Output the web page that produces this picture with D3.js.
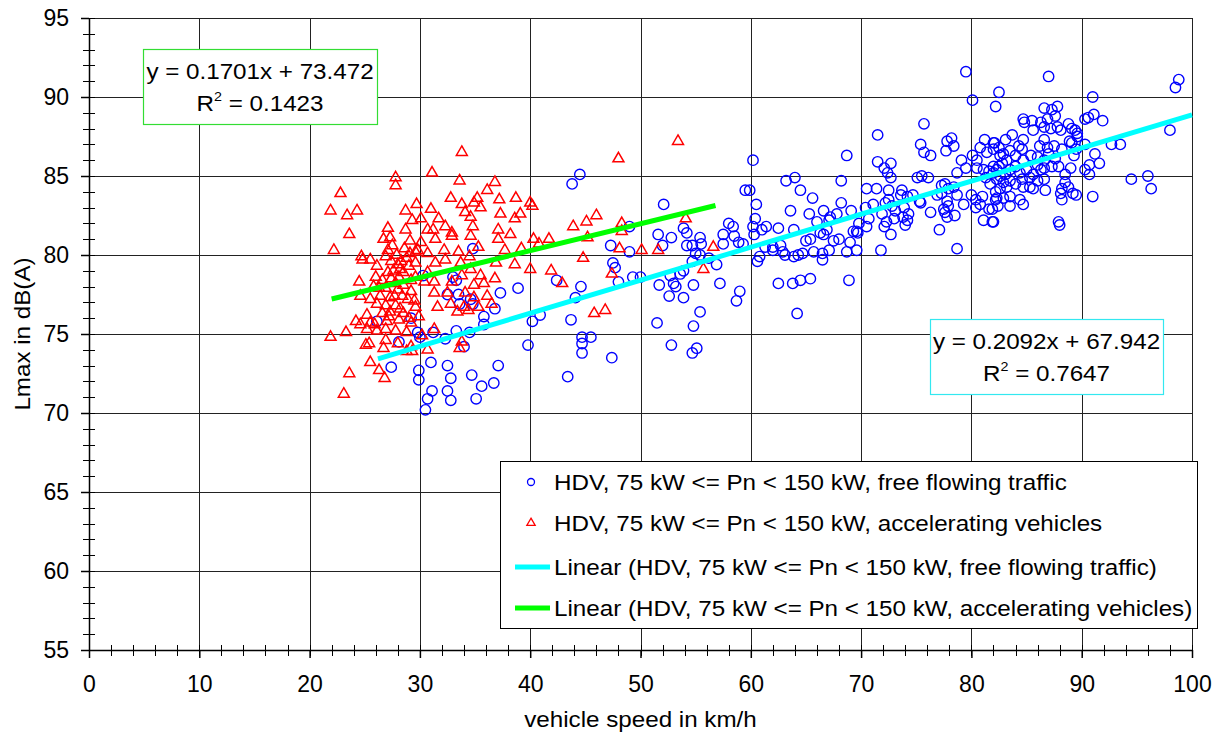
<!DOCTYPE html>
<html>
<head>
<meta charset="utf-8">
<title>Lmax vs vehicle speed</title>
<script src="https://d3js.org/d3.v7.min.js"></script>
<style>
    body { margin: 0; background: #fff; }
    svg { display: block; font-family: "Liberation Sans", Arial, sans-serif; }
</style>
</head>
<body>
<div id="chart"></div>
<script>
// axis ticks
const xTicks = [0, 10, 20, 30, 40, 50, 60, 70, 80, 90, 100];
const yTicks = [55, 60, 65, 70, 75, 80, 85, 90, 95];
const xMinorStep = 2;
const yMinorStep = 1;

// HDV, 75 kW <= Pn < 150 kW, free flowing traffic  [speed km/h, Lmax dB(A)]
const freeFlowing = [
    [26.1,75.8],[28.1,74.5],[27.4,72.9],[29.2,76.0],[29.8,75.1],[29.9,72.7],[29.9,72.1],
    [44.5,85.1],[43.8,84.5],[34.8,80.4],[30.3,78.7],[33.0,78.6],[33.3,78.4],[37.3,77.6],[38.9,77.9],
    [42.4,78.4],[44.6,78.0],[44.1,77.3],[32.5,77.5],[33.5,77.5],[34.6,77.2],[34.8,76.9],[33.6,76.9],
    [36.8,76.6],[35.8,76.1],[35.8,75.6],[34.5,75.1],[33.3,75.2],[32.3,74.7],[31.2,75.1],[30.0,74.8],
    [40.2,75.8],[40.9,76.2],[43.7,75.9],[44.7,74.8],[45.5,74.8],[44.7,74.4],[44.7,73.8],[39.8,74.3],
    [34.0,74.2],[31.0,73.2],[32.5,73.0],[32.8,72.2],[31.1,71.4],[30.7,70.9],[30.5,70.2],[32.5,71.4],
    [32.8,70.8],[34.7,72.4],[35.6,71.7],[36.7,71.9],[37.1,73.0],[35.1,70.9],[43.4,72.3],
    [60.2,86.0],[63.2,84.7],[64.0,84.9],[64.5,84.1],[59.5,84.1],[59.9,84.1],[52.1,83.2],[60.5,83.2],
    [63.6,82.8],[60.4,82.3],[60.2,81.8],[61.0,81.6],[61.4,81.8],[62.5,81.7],[63.9,81.6],[58.0,82.0],
    [58.4,81.8],[57.5,81.3],[58.5,81.2],[60.3,81.3],[53.9,81.7],[54.2,81.4],[51.6,81.3],[52.8,81.1],
    [49.0,81.8],[55.4,81.1],[55.5,80.7],[54.2,80.6],[54.7,80.6],[52.0,80.6],[57.5,80.7],[58.9,80.8],
    [59.3,80.7],[47.3,80.6],[49.0,80.2],[55.0,80.1],[55.4,80.0],[56.2,79.8],[56.9,79.4],[54.7,79.6],
    [61.3,80.5],[62.0,80.5],[62.7,80.6],[62.9,80.2],[60.8,79.9],[60.6,79.6],[62.0,80.3],[63.1,80.0],
    [63.9,79.9],[64.3,80.0],[47.5,79.5],[47.7,79.2],[49.3,78.6],[50.0,78.6],[48.0,78.3],[52.7,78.7],
    [53.0,78.2],[53.2,78.0],[53.6,78.8],[53.9,79.0],[54.8,78.1],[51.7,78.1],[52.6,77.4],[53.9,77.3],
    [57.2,78.2],[59.0,77.7],[58.7,77.1],[62.5,78.2],[63.8,78.2],[64.5,78.4],[55.4,76.4],[51.5,75.7],
    [54.8,75.5],[64.2,76.3],[47.4,73.5],[52.8,74.3],[54.7,73.8],[55.1,74.1],
    [79.5,91.6],[80.1,89.8],[82.5,90.3],[82.2,89.4],[75.7,88.3],[71.5,87.6],[68.7,86.3],[75.4,87.0],
    [75.7,86.5],[76.3,86.3],[77.7,86.6],[77.8,87.2],[78.2,87.4],[78.4,86.9],[71.5,85.9],[72.7,85.8],
    [72.1,85.5],[72.4,85.2],[72.7,84.9],[65.6,83.6],[68.2,84.7],[68.2,83.3],[65.3,82.6],[66.6,82.8],
    [67.2,82.4],[67.8,82.6],[69.1,82.8],[70.5,84.2],[71.4,84.2],[70.4,83.0],[71.1,83.2],[72.5,84.1],
    [73.7,84.1],[73.6,83.8],[74.2,83.7],[74.7,83.8],[75.3,83.4],[72.5,83.5],[72.2,83.3],[72.8,83.1],
    [73.1,82.8],[73.9,83.0],[74.3,82.6],[74.2,82.2],[71.9,82.6],[72.3,82.1],[72.1,81.8],[72.7,81.3],
    [73.0,82.3],[73.8,82.4],[74.0,81.9],[70.7,82.3],[70.5,81.8],[69.8,82.0],[69.7,81.4],[69.3,81.5],
    [75.1,84.9],[75.5,85.0],[76.1,84.9],[77.3,84.4],[77.6,84.5],[77.9,84.2],[78.4,84.3],[77.3,83.9],
    [76.9,83.8],[78.7,83.8],[77.8,83.4],[77.9,83.1],[77.5,82.9],[77.6,82.7],[77.8,82.4],[78.5,82.5],
    [76.3,82.7],[75.4,83.3],[77.1,81.6],[78.7,80.4],[79.3,83.2],[78.7,85.2],[79.1,86.0],[79.5,85.5],
    [80.1,86.3],[80.5,86.0],[80.0,83.8],[80.4,83.5],[80.4,83.0],[80.8,83.2],[81.0,83.7],[81.2,87.3],
    [82.1,87.1],[80.8,86.8],[81.4,86.5],[82.0,86.7],[82.6,86.3],[80.5,85.5],[81.1,85.4],[81.6,85.3],
    [82.0,85.2],[82.5,85.6],[81.3,84.9],[81.7,84.5],[82.2,84.0],[82.3,83.6],[81.1,82.2],[81.9,82.1],
    [81.6,82.9],[65.0,80.9],[65.4,81.0],[64.7,80.1],[65.7,80.2],[66.5,79.7],[66.5,80.1],[67.1,80.3],
    [67.5,80.9],[68.0,81.0],[66.6,81.3],[66.3,81.4],[66.9,81.6],[66.0,82.1],[67.1,82.2],[68.7,80.2],
    [69.0,80.8],[69.6,80.3],[69.6,81.5],[65.4,78.5],[68.9,78.4],[71.8,80.3],
    [87.0,91.3],[91.0,90.0],[98.8,91.1],[98.5,90.6],[98.0,87.9],[92.7,87.0],[93.5,87.0],[94.5,84.8],
    [96.0,85.0],[96.3,84.2],[91.0,83.7],[91.2,86.4],[91.6,85.8],[90.3,85.4],[90.7,85.1],[90.7,85.7],
    [91.9,88.5],[91.1,88.9],[90.6,88.7],[90.3,88.6],[90.3,87.0],[86.6,89.3],[87.3,89.2],[87.8,89.4],
    [87.6,88.8],[86.9,88.6],[84.7,88.6],[84.8,88.4],[85.5,88.5],[86.3,88.4],[86.6,88.1],[87.2,88.0],
    [87.8,88.1],[88.1,87.9],[88.8,88.3],[89.1,88.0],[89.4,87.9],[89.6,87.7],[89.6,87.5],[83.7,87.6],
    [83.1,87.3],[84.7,87.3],[85.6,87.9],[86.6,87.3],[86.2,86.9],[86.9,86.8],[87.5,86.9],[88.2,86.7],
    [88.9,87.2],[89.1,87.1],[82.0,87.1],[82.5,86.8],[82.9,86.4],[83.5,86.6],[84.3,86.9],[84.6,86.7],
    [84.0,86.3],[85.4,86.3],[84.7,86.0],[86.0,86.2],[86.6,86.0],[87.0,86.4],[87.6,86.1],[87.9,85.6],
    [87.3,85.6],[86.6,85.5],[86.0,85.7],[89.0,85.5],[89.3,86.3],[89.5,86.7],[88.5,85.1],[88.8,84.3],
    [88.2,84.2],[88.1,83.9],[88.2,83.5],[89.2,83.9],[89.5,83.8],[88.5,84.6],[87.9,82.1],[88.0,81.9],
    [82.0,85.6],[82.3,85.4],[82.8,85.8],[83.2,86.0],[82.6,85.0],[83.1,85.1],[83.5,85.4],[84.0,85.6],
    [84.4,85.2],[85.0,85.4],[85.6,85.1],[86.3,85.4],[85.3,84.9],[84.6,84.8],[83.5,84.7],[82.9,84.6],
    [82.3,84.8],[82.6,84.2],[83.2,84.3],[84.0,84.5],[84.7,84.3],[85.3,84.3],[86.0,84.7],[86.6,84.8],
    [86.7,84.1],[85.6,84.2],[82.2,83.5],[82.9,83.6],[83.5,83.7],[84.4,83.5],[84.7,83.2],[82.4,83.1],
    [83.5,83.1],[81.9,82.9],[82.0,82.1]
];

// HDV, 75 kW <= Pn < 150 kW, accelerating vehicles  [speed km/h, Lmax dB(A)]
const accelerating = [
    [22.8,83.9],[21.9,82.8],[23.4,82.5],[24.3,82.8],[23.6,81.3],[22.2,80.3],[27.8,84.9],[27.8,84.4],
    [28.7,82.8],[29.7,83.2],[29.3,82.2],[27.1,81.7],[26.7,81.0],[27.3,81.1],[28.7,81.6],[29.1,80.9],
    [27.5,80.6],[27.1,80.3],[29.1,80.1],[29.8,80.3],[24.7,79.9],[25.5,79.7],[24.8,79.7],[26.9,79.9],
    [26.1,79.3],[28.0,79.4],[28.2,79.1],[27.6,79.0],[28.5,78.9],[27.1,78.9],[26.0,78.6],[26.6,78.4],
    [24.5,78.3],[29.2,78.4],[27.8,78.2],[28.5,78.1],[25.8,78.0],[26.9,77.9],[28.0,77.8],[29.2,77.7],
    [24.6,77.4],[25.5,77.2],[26.4,77.4],[27.3,77.3],[28.4,77.4],[29.5,77.1],[26.1,76.9],[26.9,76.8],
    [27.8,76.8],[25.2,76.2],[26.6,76.3],[27.3,76.4],[28.5,76.3],[24.2,75.8],[24.6,75.6],[25.5,75.7],
    [27.0,75.8],[28.1,75.9],[29.2,75.7],[25.2,75.3],[26.1,75.2],[26.9,75.3],[27.8,75.2],[28.8,75.1],
    [21.9,74.8],[23.3,75.1],[25.1,74.3],[25.4,74.4],[26.9,74.6],[28.0,74.4],[29.2,74.2],[26.7,74.1],
    [25.5,73.2],[26.3,72.7],[26.8,72.2],[23.6,72.5],[23.1,71.2],[28.8,73.9],
    [28.3,79.6],[29.0,79.3],[27.4,79.6],[28.8,79.8],[27.9,80.0],[28.6,80.4],[27.7,77.4],[28.9,77.2],
    [28.2,76.6],[29.0,76.0],[27.4,78.5],[29.6,79.5],[28.1,78.6],[26.3,77.9],[27.2,76.1],[25.9,75.6],
    [33.8,86.5],[31.1,85.2],[33.6,84.7],[36.8,84.6],[36.1,84.1],[32.8,83.6],[31.0,82.9],[33.8,83.2],
    [35.2,83.6],[34.9,83.3],[35.5,83.0],[37.2,83.5],[38.7,83.6],[40.0,83.3],[40.2,83.1],[37.3,82.6],
    [39.1,82.6],[38.6,82.3],[34.1,82.7],[34.6,82.4],[31.7,82.3],[30.1,82.3],[30.7,81.6],[32.3,81.8],
    [32.9,81.4],[34.8,81.8],[37.1,81.6],[38.2,81.3],[31.2,81.6],[32.9,81.2],[34.6,81.2],[37.1,81.0],
    [40.3,81.0],[41.7,81.0],[40.8,80.7],[30.1,80.8],[31.4,81.0],[32.2,80.3],[30.7,80.1],[29.6,80.2],
    [33.5,80.2],[34.5,79.9],[35.3,80.5],[37.7,80.3],[39.2,80.4],[36.9,79.5],[38.6,79.4],[40.0,79.1],
    [41.9,79.0],[42.9,78.2],[44.8,79.8],[43.9,81.8],[45.1,82.1],[46.0,82.5],[45.2,81.1],[45.8,76.3],
    [31.4,79.5],[32.3,79.7],[33.7,79.5],[34.6,79.1],[35.5,78.7],[36.8,78.5],[35.8,78.2],[34.9,78.1],
    [33.8,78.7],[32.9,78.3],[31.3,78.3],[30.4,78.3],[30.7,78.9],[29.6,78.6],[31.3,77.6],[32.5,77.6],
    [34.1,77.6],[34.9,77.3],[36.1,77.4],[31.6,76.7],[32.8,76.9],[34.0,76.7],[35.3,76.7],[36.5,76.9],
    [33.4,76.4],[34.4,76.5],[29.6,76.7],[29.9,76.1],[30.2,74.9],[31.3,75.3],[33.8,74.5],[33.6,74.1],
    [30.7,74.0],[29.3,73.9],
    [53.4,87.2],[48.0,86.1],[48.3,82.0],[48.3,81.5],[54.1,82.3],[48.1,80.4],[50.1,80.3],[51.6,80.3],
    [56.6,80.5],[55.7,79.1],[47.4,78.8],[46.8,76.5]
];

// linear trend lines as given in the chart: [slope, intercept], [xFrom, xTo]
const fitFree = [0.2092, 67.942];
const fitFreeRange = [26.2, 100];
const fitAccel = [0.1701, 73.472];
const fitAccelRange = [22.0, 56.8];

const eqFree = ["y = 0.2092x + 67.942", "0.7647"];
const eqAccel = ["y = 0.1701x + 73.472", "0.1423"];

const legendLabels = [
    "HDV, 75 kW <= Pn < 150 kW, free flowing traffic",
    "HDV, 75 kW <= Pn < 150 kW, accelerating vehicles",
    "Linear (HDV, 75 kW <= Pn < 150 kW, free flowing traffic)",
    "Linear (HDV, 75 kW <= Pn < 150 kW, accelerating vehicles)"
];

const blue = '#0000ff', red = '#ff0000', cyan = '#00ffff', green = '#00ff00';
const textStretch = 1.1;   // the original text is a little wider than Arial

const width = 1220, height = 740;
const margin = {top: 18, right: 28, bottom: 90, left: 89};

const svg = d3.select('#chart').append('svg')
    .attr('width', width)
    .attr('height', height);

const x = d3.scaleLinear().domain([0, 100]).range([margin.left, width - margin.right]);
const y = d3.scaleLinear().domain([55, 95]).range([height - margin.bottom, margin.top]);

// grid
const grid = svg.append('g').attr('stroke', '#222').attr('stroke-width', 1);
grid.selectAll('.gx').data(xTicks.slice(1)).join('line')
    .attr('x1', d => Math.round(x(d)) + 0.5).attr('x2', d => Math.round(x(d)) + 0.5)
    .attr('y1', y(95)).attr('y2', y(55));
grid.selectAll('.gy').data(yTicks.slice(1)).join('line')
    .attr('x1', x(0)).attr('x2', x(100))
    .attr('y1', d => Math.round(y(d)) + 0.5).attr('y2', d => Math.round(y(d)) + 0.5);

// minor ticks (crossing the axes)
const xMinor = d3.range(0, 100.1, xMinorStep);
const yMinor = d3.range(55, 95.1, yMinorStep);
svg.append('g').attr('stroke', '#000').attr('stroke-width', 1)
    .selectAll('line').data(xMinor).join('line')
    .attr('x1', d => Math.round(x(d)) + 0.5).attr('x2', d => Math.round(x(d)) + 0.5)
    .attr('y1', y(55) - 5).attr('y2', y(55) + 6);
svg.append('g').attr('stroke', '#000').attr('stroke-width', 1)
    .selectAll('line').data(yMinor).join('line')
    .attr('x1', x(0) - 6).attr('x2', x(0) + 6)
    .attr('y1', d => Math.round(y(d)) + 0.5).attr('y2', d => Math.round(y(d)) + 0.5);

// axes
const xAxis = svg.append('g')
    .attr('transform', `translate(0,${y(55)})`)
    .call(d3.axisBottom(x).tickValues(xTicks).tickSize(8).tickSizeOuter(0).tickPadding(18));
const yAxis = svg.append('g')
    .attr('transform', `translate(${x(0)},0)`)
    .call(d3.axisLeft(y).tickValues(yTicks).tickSize(8).tickSizeOuter(0).tickPadding(12));
[xAxis, yAxis].forEach(a => {
    a.select('.domain').attr('stroke', '#000').attr('stroke-width', 1.5);
    a.selectAll('.tick line').attr('stroke', '#000').attr('stroke-width', 1.5);
    a.selectAll('.tick text').attr('font-size', 23).attr('fill', '#000')
        .attr('font-family', '"Liberation Sans", Arial, sans-serif');
});

// stretched text helper
function label(parent, tx, ty, str, size, anchor, rot) {
    return parent.append('text')
        .attr('transform', `translate(${tx},${ty})` + (rot ? ` rotate(${rot})` : '') + ` scale(${textStretch},1)`)
        .attr('text-anchor', anchor || 'start')
        .attr('font-size', size)
        .text(str);
}

// axis titles
label(svg, x(50), 727, 'vehicle speed in km/h', 22, 'middle');
label(svg, 30, y(75), 'Lmax in dB(A)', 22, 'middle', -90);

// scatter: free flowing (circles)
svg.append('g').selectAll('circle').data(freeFlowing).join('circle')
    .attr('cx', d => x(d[0])).attr('cy', d => y(d[1])).attr('r', 5.2)
    .attr('fill', 'none').attr('stroke', blue).attr('stroke-width', 1.4);

// scatter: accelerating (triangles)
const tri = d3.symbol(d3.symbolTriangle).size(52);
svg.append('g').selectAll('path').data(accelerating).join('path')
    .attr('d', tri)
    .attr('transform', d => `translate(${x(d[0])},${y(d[1])})`)
    .attr('fill', 'none').attr('stroke', red).attr('stroke-width', 1.5);

// trend lines
function fitLine(fit, range) {
    return range.map(v => [v, fit[0] * v + fit[1]]);
}
const line = d3.line().x(d => x(d[0])).y(d => y(d[1]));
svg.append('path').datum(fitLine(fitFree, fitFreeRange))
    .attr('d', line).attr('stroke', cyan).attr('stroke-width', 5).attr('fill', 'none');
svg.append('path').datum(fitLine(fitAccel, fitAccelRange))
    .attr('d', line).attr('stroke', green).attr('stroke-width', 5).attr('fill', 'none');

// equation boxes
function eqBox(left, top, w, h, colour, eq) {
    const g = svg.append('g').attr('transform', `translate(${left},${top})`);
    g.append('rect').attr('x', 0.5).attr('y', 0.5).attr('width', w).attr('height', h)
        .attr('fill', '#fff').attr('stroke', colour).attr('stroke-width', 1.2);
    label(g, w / 2, 30, eq[0], 22, 'middle');
    const r = label(g, w / 2, 62, '', 22, 'middle');
    r.append('tspan').text('R');
    r.append('tspan').attr('font-size', 13).attr('dy', -10).text('2');
    r.append('tspan').attr('dy', 10).text(' = ' + eq[1]);
}
eqBox(143, 49, 234, 75, '#33dd33', eqAccel);
eqBox(930, 319, 233, 75, '#33e8f0', eqFree);

// legend
const lg = svg.append('g').attr('transform', 'translate(500,461)');
lg.append('rect').attr('x', 0.5).attr('y', 0.5).attr('width', 697).attr('height', 167)
    .attr('fill', '#fff').attr('stroke', '#000').attr('stroke-width', 1);
const rowY = [21, 62, 106, 147];
legendLabels.forEach((d, i) => label(lg, 54, rowY[i] + 8, d, 22));
lg.append('circle').attr('cx', 31).attr('cy', rowY[0]).attr('r', 3.5)
    .attr('fill', 'none').attr('stroke', blue).attr('stroke-width', 1.3);
lg.append('path').attr('d', d3.symbol(d3.symbolTriangle).size(30))
    .attr('transform', `translate(31,${rowY[1]})`)
    .attr('fill', 'none').attr('stroke', red).attr('stroke-width', 1.3);
lg.append('line').attr('x1', 15).attr('x2', 50).attr('y1', rowY[2]).attr('y2', rowY[2])
    .attr('stroke', cyan).attr('stroke-width', 5);
lg.append('line').attr('x1', 15).attr('x2', 50).attr('y1', rowY[3]).attr('y2', rowY[3])
    .attr('stroke', green).attr('stroke-width', 5);
</script>
</body>
</html>
